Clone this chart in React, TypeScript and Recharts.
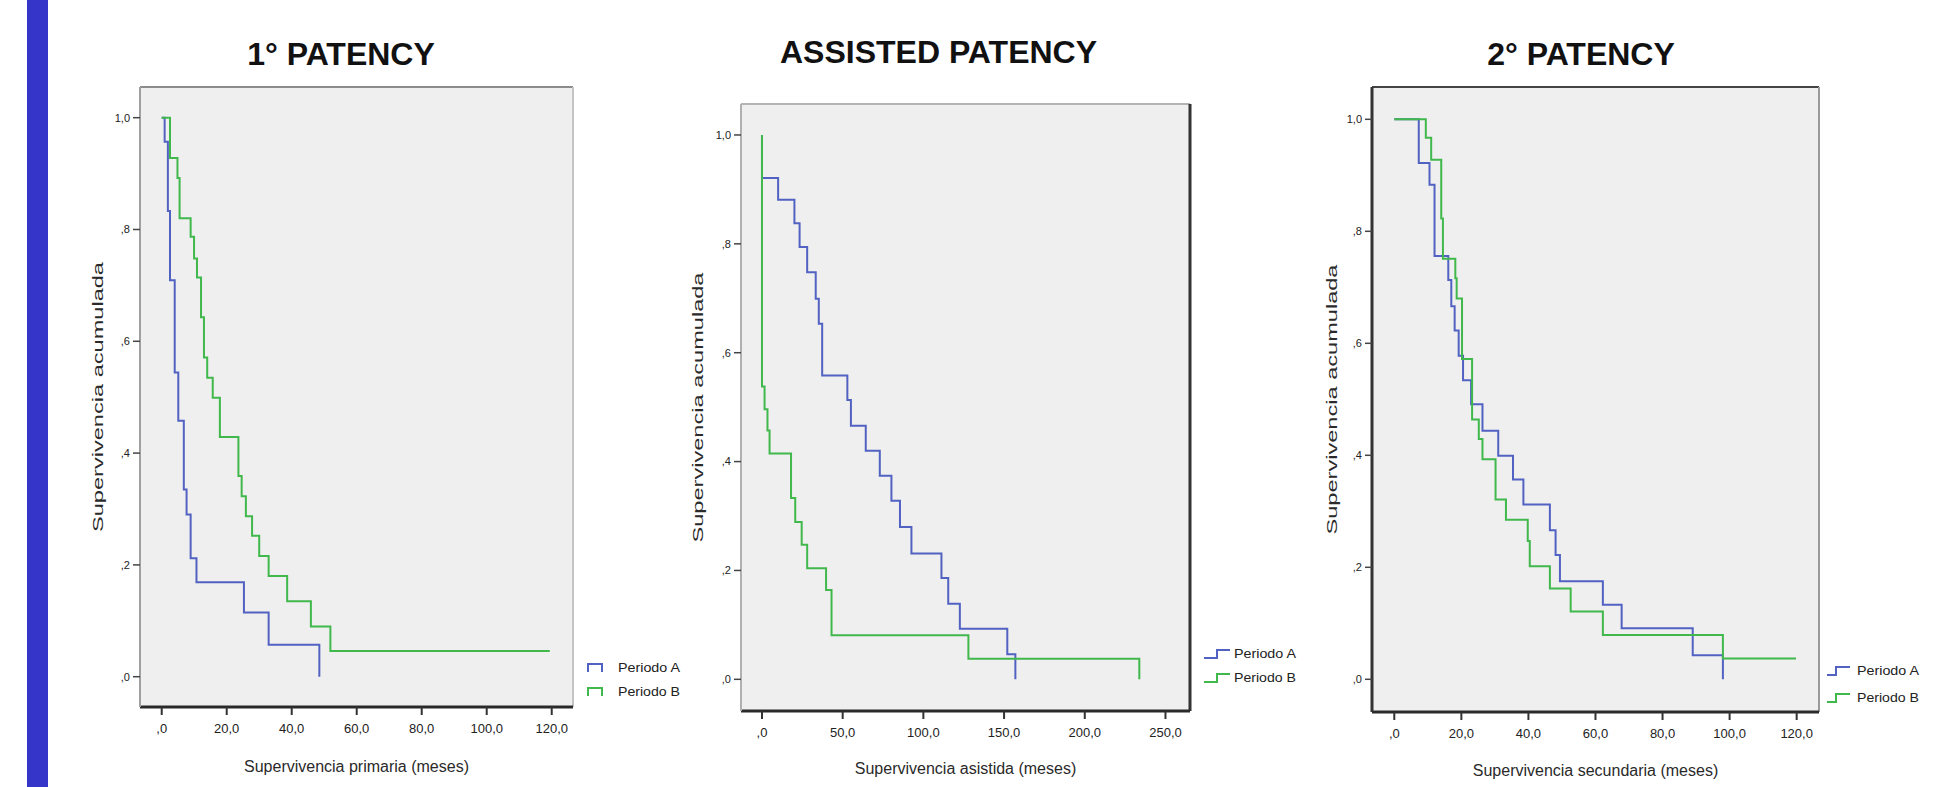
import React from 'react';
import { LineChart, Line, XAxis, YAxis, CartesianGrid, ReferenceLine } from 'recharts';

// ---------- DATA ----------
// 1° PATENCY (Supervivencia primaria, meses)
const primA_t = [0, 0.9, 1.9, 2.55, 4.0, 5.1, 6.8, 7.65, 8.9, 10.7, 25.3, 32.9, 48.5];
const primA_s = [1.0, 0.957, 0.833, 0.709, 0.544, 0.458, 0.335, 0.29, 0.212, 0.169, 0.115, 0.057, 0.0];
const primB_t = [0, 2.55, 4.85, 5.5, 8.9, 9.95, 10.85, 12.1, 13.0, 14.0, 15.7, 17.9, 23.6, 24.6, 25.9, 27.8, 30.0, 32.9, 38.6, 45.9, 51.9, 119.4];
const primB_s = [1.0, 0.928, 0.892, 0.82, 0.787, 0.748, 0.714, 0.643, 0.571, 0.535, 0.499, 0.429, 0.359, 0.323, 0.287, 0.252, 0.216, 0.18, 0.135, 0.09, 0.046, 0.046];

// ASSISTED PATENCY (Supervivencia asistida, meses)
const asisA_t = [0, 0, 10.0, 20.1, 23.3, 28.0, 33.3, 35.2, 37.3, 52.9, 55.1, 64.3, 73.0, 80.2, 85.5, 92.6, 111.2, 115.4, 122.6, 152, 157];
const asisA_s = [1.0, 0.921, 0.881, 0.838, 0.794, 0.748, 0.699, 0.653, 0.558, 0.513, 0.466, 0.42, 0.374, 0.328, 0.28, 0.231, 0.186, 0.139, 0.093, 0.046, 0.0];
const asisB_t = [0, 0, 1.6, 3.4, 4.7, 18.0, 20.6, 24.6, 28.0, 39.7, 43.1, 127.9, 233.8];
const asisB_s = [1.0, 0.538, 0.496, 0.457, 0.415, 0.333, 0.289, 0.247, 0.204, 0.164, 0.081, 0.038, 0.0];

// 2° PATENCY (Supervivencia secundaria, meses)
const secA_t = [0, 7.3, 10.5, 12.0, 16.1, 17.0, 18.0, 19.2, 20.5, 22.9, 26.3, 31.0, 35.4, 38.5, 46.4, 48.1, 49.4, 62.2, 67.8, 89.0, 98.0];
const secA_s = [1.0, 0.922, 0.883, 0.756, 0.713, 0.666, 0.623, 0.578, 0.534, 0.491, 0.444, 0.399, 0.357, 0.312, 0.266, 0.222, 0.175, 0.133, 0.091, 0.043, 0.0];
const secB_t = [0, 9.4, 11.0, 14.0, 14.5, 18.2, 18.6, 20.2, 23.2, 25.2, 26.3, 30.2, 33.3, 39.8, 40.4, 46.4, 52.6, 62.2, 98.0, 119.8];
const secB_s = [1.0, 0.967, 0.928, 0.823, 0.751, 0.716, 0.68, 0.572, 0.464, 0.429, 0.393, 0.321, 0.285, 0.247, 0.202, 0.162, 0.121, 0.079, 0.037, 0.037];

// ticks and labels
const yTicks = [0, 0.2, 0.4, 0.6, 0.8, 1.0];
const yTickLabels = [',0', ',2', ',4', ',6', ',8', '1,0'];
const xTicks120 = [0, 20, 40, 60, 80, 100, 120];
const xTickLabels120 = [',0', '20,0', '40,0', '60,0', '80,0', '100,0', '120,0'];
const xTicks250 = [0, 50, 100, 150, 200, 250];
const xTickLabels250 = [',0', '50,0', '100,0', '150,0', '200,0', '250,0'];

const titles = ['1° PATENCY', 'ASSISTED PATENCY', '2° PATENCY'];
const xTitles = ['Supervivencia primaria (meses)', 'Supervivencia asistida (meses)', 'Supervivencia secundaria (meses)'];
const yTitle = 'Supervivencia acumulada';
const seriesNames = ['Periodo A', 'Periodo B'];

// ---------- STYLE ----------
const BLUE = '#5262c2';
const GREEN = '#40b84c';
const FONT = '"Liberation Sans", Arial, Helvetica, sans-serif';

const zip = (t: number[], s: number[]) => t.map((x, i) => ({ x, y: s[i] }));

const XTitle = (props: any) => {
  const vb = props.viewBox || {};
  const cx = vb.x + vb.width / 2;
  const cy = vb.y + props.dy0;
  return (
    <text x={cx} y={cy} textAnchor="middle" dominantBaseline="central" fontSize={16} fill="#2a2a2a" fontFamily={FONT}>
      {props.text}
    </text>
  );
};

const YTitle = (props: any) => {
  const vb = props.viewBox || {};
  const cx = vb.x + vb.width - props.dx0;
  const cy = vb.y + vb.height / 2;
  return (
    <text
      x={cx}
      y={cy}
      transform={`rotate(-90 ${cx} ${cy})`}
      textAnchor="middle"
      dominantBaseline="central"
      fontSize={15}
      fill="#2a2a2a"
      fontFamily={FONT}
      textLength={270}
      lengthAdjust="spacingAndGlyphs"
    >
      {props.text}
    </text>
  );
};

type Cfg = {
  box: { left: number; top: number; right: number; bottom: number };
  xDomain: [number, number];
  yDomain: [number, number];
  xTicks: number[];
  xTickLabels: string[];
  a: { x: number; y: number }[];
  b: { x: number; y: number }[];
  xTitle: string;
  xTitleDy: number;
  yTitleDx: number;
  leftColor: string;
  leftWidth: number;
  topColor: string;
  rightColor: string;
  rightWidth: number;
};

function KMChart({ cfg }: { cfg: Cfg }) {
  const YW = 70, MT = 10, MR = 10, XH = 75;
  const w = YW + (cfg.box.right - cfg.box.left) + MR;
  const h = MT + (cfg.box.bottom - cfg.box.top) + XH;
  return (
    <div style={{ position: 'absolute', left: cfg.box.left - YW, top: cfg.box.top - MT }}>
      <LineChart width={w} height={h} margin={{ top: MT, right: MR, bottom: 0, left: 0 }}>
        <CartesianGrid fill="#efefef" horizontal={false} vertical={false} stroke="none" />
        <ReferenceLine y={cfg.yDomain[1]} stroke={cfg.topColor} strokeWidth={2} ifOverflow="visible" />
        <ReferenceLine x={cfg.xDomain[1]} stroke={cfg.rightColor} strokeWidth={cfg.rightWidth} ifOverflow="visible" />
        <XAxis
          type="number"
          dataKey="x"
          domain={cfg.xDomain}
          ticks={cfg.xTicks}
          allowDataOverflow
          interval={0}
          height={XH}
          tickSize={8}
          tickMargin={9}
          tickFormatter={(v: number) => cfg.xTickLabels[cfg.xTicks.indexOf(v)] ?? String(v)}
          axisLine={{ stroke: '#2a2a2a', strokeWidth: 3 }}
          tickLine={{ stroke: '#333', strokeWidth: 2 }}
          tick={{ fontSize: 13, fill: '#222', fontFamily: FONT }}
          label={<XTitle text={cfg.xTitle} dy0={cfg.xTitleDy} />}
        />
        <YAxis
          type="number"
          dataKey="y"
          domain={cfg.yDomain}
          ticks={yTicks}
          allowDataOverflow
          interval={0}
          width={YW}
          tickSize={7}
          tickMargin={3}
          tickFormatter={(v: number) => yTickLabels[yTicks.indexOf(v)] ?? String(v)}
          axisLine={{ stroke: cfg.leftColor, strokeWidth: cfg.leftWidth }}
          tickLine={{ stroke: '#444', strokeWidth: 1.5 }}
          tick={{ fontSize: 11, fill: '#222', fontFamily: FONT }}
          label={<YTitle text={yTitle} dx0={cfg.yTitleDx} />}
        />
        <Line data={cfg.a} dataKey="y" name={seriesNames[0]} type="stepAfter" stroke={BLUE} strokeWidth={2} dot={false} isAnimationActive={false} />
        <Line data={cfg.b} dataKey="y" name={seriesNames[1]} type="stepAfter" stroke={GREEN} strokeWidth={2} dot={false} isAnimationActive={false} />
      </LineChart>
    </div>
  );
}

function KMLegend({ left, top, gap, icon }: { left: number; top: number; gap: number; icon: string }) {
  const colors = [BLUE, GREEN];
  return (
    <svg style={{ position: 'absolute', left: left - 14, top: top - 10 }} width={110} height={gap + 24}>
      {seriesNames.map((n, i) => (
        <g key={n} transform={`translate(14, ${10 + i * gap})`}>
          <path d={icon} fill="none" stroke={colors[i]} strokeWidth={2} transform="translate(0,-5)" />
          <text x={30} y={0} dominantBaseline="central" fontSize={12} fill="#222" fontFamily={FONT} textLength={62} lengthAdjust="spacingAndGlyphs">
            {n}
          </text>
        </g>
      ))}
    </svg>
  );
}

function Title({ cx, baseline, text }: { cx: number; baseline: number; text: string }) {
  return (
    <div
      style={{
        position: 'absolute',
        left: cx - 250,
        width: 500,
        top: baseline - 27,
        textAlign: 'center',
        fontFamily: FONT,
        fontWeight: 'bold',
        fontSize: 32,
        lineHeight: '32px',
        color: '#111',
        whiteSpace: 'nowrap',
      }}
    >
      {text}
    </div>
  );
}

const cfg1: Cfg = {
  box: { left: 140, top: 87, right: 573, bottom: 707 },
  xDomain: [-6.68, 126.55],
  yDomain: [-0.0542, 1.0549],
  xTicks: xTicks120,
  xTickLabels: xTickLabels120,
  a: zip(primA_t, primA_s),
  b: zip(primB_t, primB_s),
  xTitle: xTitles[0],
  xTitleDy: 59,
  yTitleDx: 43,
  leftColor: '#a0a0a0',
  leftWidth: 2,
  topColor: '#8c8c8c',
  rightColor: '#c4c4c4',
  rightWidth: 2,
};

const cfg2: Cfg = {
  box: { left: 741, top: 104, right: 1190, bottom: 711 },
  xDomain: [-13.0, 265.2],
  yDomain: [-0.0582, 1.0569],
  xTicks: xTicks250,
  xTickLabels: xTickLabels250,
  a: zip(asisA_t, asisA_s),
  b: zip(asisB_t, asisB_s),
  xTitle: xTitles[1],
  xTitleDy: 57,
  yTitleDx: 44,
  leftColor: '#b0b0b0',
  leftWidth: 2,
  topColor: '#b4b4b4',
  rightColor: '#333',
  rightWidth: 3,
};

const cfg3: Cfg = {
  box: { left: 1372, top: 87, right: 1819, bottom: 712 },
  xDomain: [-6.65, 126.66],
  yDomain: [-0.0584, 1.0577],
  xTicks: xTicks120,
  xTickLabels: xTickLabels120,
  a: zip(secA_t, secA_s),
  b: zip(secB_t, secB_s),
  xTitle: xTitles[2],
  xTitleDy: 58,
  yTitleDx: 41,
  leftColor: '#333',
  leftWidth: 3,
  topColor: '#444',
  rightColor: '#9a9a9a',
  rightWidth: 2,
};

export default function App() {
  return (
    <div
      style={{
        position: 'absolute',
        left: 0,
        top: 0,
        width: 1955,
        height: 787,
        background: '#ffffff',
        overflow: 'hidden',
        fontFamily: FONT,
      }}
    >
      <div style={{ position: 'absolute', left: 27, top: 0, width: 21, height: 787, background: '#3535c9' }} />

      <Title cx={341} baseline={65} text={titles[0]} />
      <Title cx={938.5} baseline={63} text={titles[1]} />
      <Title cx={1581} baseline={65} text={titles[2]} />

      <KMChart cfg={cfg1} />
      <KMChart cfg={cfg2} />
      <KMChart cfg={cfg3} />

      <KMLegend left={588} top={668} gap={24} icon="M0,9 V1 H14 V9" />
      <KMLegend left={1204} top={654} gap={24} icon="M0,9 H13 V1 H26" />
      <KMLegend left={1827} top={671} gap={27} icon="M0,9 H9 V1 H23" />
    </div>
  );
}
